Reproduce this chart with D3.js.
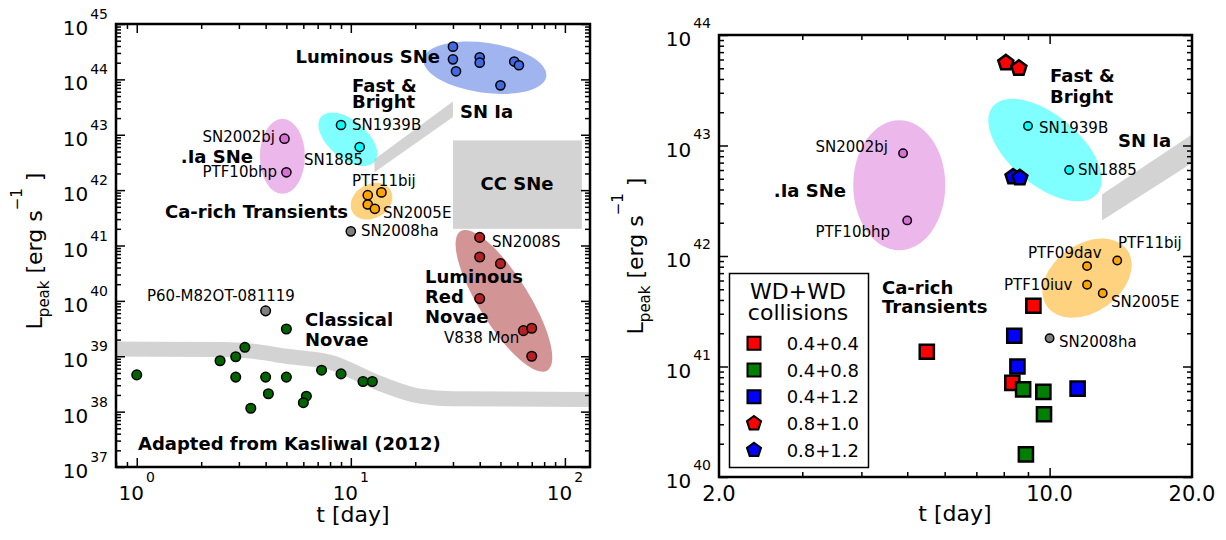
<!DOCTYPE html>
<meta charset="UTF-8">
<style>
  body { margin: 0; background: #fff; }
  svg { display: block; }
</style>
<body></body>
<script src="https://d3js.org/d3.v7.min.js"></script>
<script>
  // ---- data: t in days, L in erg/s ----
  const iaNames = ['SN2002bj', 'PTF10bhp'];
  const iaT = [4.9, 5.0];
  const iaL = [8.5e42, 2.1e42];

  const fbNames = ['SN1939B', 'SN1885'];
  const fbT = [9.0, 11.0];
  const fbL = [1.5e43, 6.0e42];

  const caNames = ['PTF09dav', 'PTF11bij', 'PTF10iuv', 'SN2005E'];
  const caT = [12.0, 13.9, 12.0, 12.95];
  const caL = [8.1e41, 9.1e41, 5.5e41, 4.6e41];

  const haT = [10.0];
  const haL = [1.8e41];

  const lumT = [30, 30, 31, 40, 40, 50, 58, 61];
  const lumL = [3.9e44, 2.3e44, 1.4e44, 2.5e44, 2.0e44, 7.8e43, 2.1e44, 1.8e44];

  const lrnT = [40, 40, 50, 40, 64, 70, 70];
  const lrnL = [1.4e41, 6.2e40, 4.7e40, 1.1e40, 2.9e39, 3.2e39, 1.0e39];

  const novaT = [1.0, 2.45, 2.9, 3.2, 2.9, 3.41, 4.0, 4.12, 5.0, 5.0, 6.2, 6.0, 7.3, 9.0, 11.4, 12.6];
  const novaL = [4.6e38, 8.3e38, 9.8e38, 1.45e39, 4.2e38, 1.15e38, 4.2e38, 2.1e38, 3.1e39, 4.2e38,
                 1.9e38, 1.45e38, 5.6e38, 4.8e38, 3.5e38, 3.5e38];

  const p60T = [4.0];
  const p60L = [6.6e39];

  const novaBandT = [0.8, 2.5, 3.5, 5, 8, 13.7, 21, 30, 131];
  const novaBandL = [1.35e39, 1.32e39, 1.23e39, 1.0e39, 7.8e38, 3.2e38, 1.9e38, 1.7e38, 1.66e38];

  const sniaBandT = [12.9, 30, 30, 12.9];
  const sniaBandL = [3.6e42, 4.0e43, 2.1e43, 2.1e42];

  const ccT = [30, 120];
  const ccL = [2.0e41, 7.9e42];

  // WD+WD collision models
  const collLabels = ['0.4+0.4', '0.4+0.8', '0.4+1.2', '0.8+1.0', '0.8+1.2'];
  const collColors = ['#ff0000', '#008000', '#0000ff', '#ff0000', '#0000ff'];
  const collShapes = ['square', 'square', 'square', 'pentagon', 'pentagon'];
  const collT = [[9.24, 5.5, 8.34], [8.79, 9.70, 9.73, 8.91], [8.42, 8.55, 11.46], [8.08, 8.61], [8.37, 8.65]];
  const collL = [[3.55e41, 1.36e41, 7.1e40], [6.2e40, 5.9e40, 3.7e40, 1.6e40], [1.9e41, 1.0e41, 6.3e40],
                 [5.6e43, 5.0e43], [5.2e42, 5.1e42]];

  const zip = (a, b) => a.map((v, i) => [v, b[i]]);

  const svg = d3.select('body').append('svg')
    .attr('width', 1226).attr('height', 540)
    .style('font-family', '"DejaVu Sans", sans-serif');

  const symbolPentagon = {
    draw(ctx, size) {
      const r = Math.sqrt(size / 2.378);
      for (let i = 0; i < 5; i += 1) {
        const a = -Math.PI / 2 + i * 2 * Math.PI / 5;
        if (i) ctx.lineTo(r * Math.cos(a), r * Math.sin(a));
        else ctx.moveTo(r * Math.cos(a), r * Math.sin(a));
      }
      ctx.closePath();
    }
  };

  function makePanel(id, box, xDomain, yDomain) {
    const x = d3.scaleLog().domain(xDomain).range([box.l, box.r]);
    const y = d3.scaleLog().domain(yDomain).range([box.b, box.t]);
    const g = svg.append('g');
    g.append('clipPath').attr('id', id).append('rect')
      .attr('x', box.l).attr('y', box.t).attr('width', box.r - box.l).attr('height', box.b - box.t);
    const plot = g.append('g').attr('clip-path', `url(#${id})`);
    return { x, y, g, plot, box };
  }

  function drawFrame(p, xMajor, xMinor, yMajor, yMinor) {
    const { x, y, g, box } = p;
    const add = (axis, tr) => g.append('g').attr('transform', tr).call(axis)
      .call(s => s.select('.domain').remove())
      .call(s => s.selectAll('text').remove())
      .selectAll('line').attr('stroke', '#000').attr('stroke-width', 1.5);
    [[xMajor, 9], [xMinor, 5]].forEach(([vals, len]) => {
      add(d3.axisBottom(x).tickValues(vals).tickSize(-len), `translate(0,${box.b})`);
      add(d3.axisTop(x).tickValues(vals).tickSize(-len), `translate(0,${box.t})`);
    });
    [[yMajor, 9], [yMinor, 5]].forEach(([vals, len]) => {
      add(d3.axisLeft(y).tickValues(vals).tickSize(-len), `translate(${box.l},0)`);
      add(d3.axisRight(y).tickValues(vals).tickSize(-len), `translate(${box.r},0)`);
    });
    g.append('rect').attr('x', box.l).attr('y', box.t)
      .attr('width', box.r - box.l).attr('height', box.b - box.t)
      .attr('fill', 'none').attr('stroke', '#000').attr('stroke-width', 2.5);
  }

  function minorTicks(lo, hi) {
    const out = [];
    for (let e = lo; e < hi; e += 1) for (let m = 2; m <= 9; m += 1) out.push(m * Math.pow(10, e));
    return out;
  }

  function yPowLabels(p, exps, xr, dyExp) {
    exps.forEach(e => {
      const t = p.g.append('text').attr('x', xr).attr('y', p.y(Math.pow(10, e)) + 11)
        .attr('text-anchor', 'end');
      t.append('tspan').attr('font-size', 20).text('10');
      t.append('tspan').attr('font-size', 14).attr('dx', 2).attr('dy', dyExp).text(e);
    });
  }

  function yTitle(cx, cy) {
    const t = svg.append('text').attr('transform', `translate(${cx},${cy}) rotate(-90)`)
      .attr('text-anchor', 'middle').attr('font-size', 22);
    t.append('tspan').text('L');
    t.append('tspan').attr('font-size', 15).attr('dy', 7).text('peak');
    t.append('tspan').attr('dy', -7).text(' [erg s');
    t.append('tspan').attr('font-size', 15).attr('dy', -20).text('−1');
    t.append('tspan').attr('dy', 20).text(' ]');
  }

  function ellipse(p, t, L, rx, ry, rot, fill) {
    p.plot.append('ellipse')
      .attr('transform', `translate(${p.x(t)},${p.y(L)}) rotate(${rot})`)
      .attr('rx', rx).attr('ry', ry).attr('fill', fill).attr('fill-opacity', 0.5);
  }

  function polygon(p, ts, ls) {
    p.plot.append('path')
      .attr('d', d3.line().x(d => p.x(d[0])).y(d => p.y(d[1]))(zip(ts, ls)) + 'Z')
      .attr('fill', 'lightgrey');
  }

  function circles(p, ts, ls, color, r) {
    p.plot.append('g').selectAll('circle').data(zip(ts, ls)).join('circle')
      .attr('cx', d => p.x(d[0])).attr('cy', d => p.y(d[1])).attr('r', r)
      .attr('fill', color).attr('stroke', '#000').attr('stroke-width', 1.5);
  }

  function labels(p, list) {
    list.forEach(([txt, x, y, anchor, bold]) => {
      p.g.append('text').attr('x', x).attr('y', y).attr('text-anchor', anchor)
        .attr('font-size', bold ? 18 : 15).attr('font-weight', bold ? 'bold' : 'normal')
        .text(txt);
    });
  }

  // ================= left panel =================
  const left = makePanel('clipL', { l: 116, r: 590, t: 24, b: 467 }, [0.8, 131], [1e37, 1e45]);

  left.plot.append('path')
    .attr('d', d3.line().curve(d3.curveMonotoneX).x(d => left.x(d[0])).y(d => left.y(d[1]))(zip(novaBandT, novaBandL)))
    .attr('fill', 'none').attr('stroke', 'lightgrey').attr('stroke-width', 15);
  polygon(left, sniaBandT, sniaBandL);
  left.plot.append('rect')
    .attr('x', left.x(ccT[0])).attr('y', left.y(ccL[1]))
    .attr('width', left.x(ccT[1]) - left.x(ccT[0])).attr('height', left.y(ccL[0]) - left.y(ccL[1]))
    .attr('fill', 'lightgrey');

  ellipse(left, 42.3, 1.62e44, 62, 25, 8, 'royalblue');
  ellipse(left, 9.68, 8.3e42, 35, 19, 40, 'cyan');
  ellipse(left, 4.79, 4.07e42, 22.5, 37.5, 0, 'orchid');
  ellipse(left, 12.5, 6.3e41, 22, 17, -30, 'orange');
  ellipse(left, 51.9, 1.0e40, 82, 25, 58, 'brown');

  circles(left, lumT, lumL, 'royalblue', 4.6);
  circles(left, fbT, fbL, 'cyan', 4.6);
  circles(left, iaT, iaL, 'orchid', 4.6);
  circles(left, caT, caL, 'orange', 4.6);
  circles(left, haT, haL, 'grey', 4.6);
  circles(left, lrnT, lrnL, '#b22222', 4.8);
  circles(left, novaT, novaL, 'darkgreen', 4.8);
  circles(left, p60T, p60L, 'grey', 4.8);

  drawFrame(left, [1, 10, 100], [0.8, 0.9].concat(minorTicks(0, 2)), d3.range(37, 46).map(e => Math.pow(10, e)), minorTicks(37, 45));
  yPowLabels(left, d3.range(37, 46), 108, -16);
  [0, 1, 2].forEach(e => {
    const t = left.g.append('text').attr('x', left.x(Math.pow(10, e))).attr('y', 500).attr('text-anchor', 'middle');
    t.append('tspan').attr('font-size', 20).text('10');
    t.append('tspan').attr('font-size', 14).attr('dx', 2).attr('dy', -18).text(e);
  });
  left.g.append('text').attr('x', 353).attr('y', 522).attr('text-anchor', 'middle').attr('font-size', 22).text('t [day]');
  yTitle(42, 251);

  labels(left, [
    ['Luminous SNe', 440, 63, 'end', true],
    ['Fast &', 352, 92, 'start', true],
    ['Bright', 352, 108, 'start', true],
    ['SN Ia', 460, 118, 'start', true],
    ['SN1939B', 352, 130, 'start'],
    ['SN2002bj', 275, 142, 'end'],
    ['.Ia SNe', 253, 163, 'end', true],
    ['SN1885', 363, 165, 'end'],
    ['PTF10bhp', 277, 177, 'end'],
    ['PTF11bij', 352, 186, 'start'],
    ['CC SNe', 517, 190, 'middle', true],
    ['Ca-rich Transients', 348, 218, 'end', true],
    ['SN2005E', 383, 218, 'start'],
    ['SN2008ha', 361, 236, 'start'],
    ['SN2008S', 492, 247, 'start'],
    ['Luminous', 425, 283, 'start', true],
    ['Red', 425, 303, 'start', true],
    ['Novae', 425, 323, 'start', true],
    ['P60-M82OT-081119', 147, 301, 'start'],
    ['Classical', 305, 326, 'start', true],
    ['Novae', 305, 346, 'start', true],
    ['V838 Mon', 444, 343, 'start'],
    ['Adapted from Kasliwal (2012)', 138, 450, 'start', true]
  ]);

  // ================= right panel =================
  const right = makePanel('clipR', { l: 719, r: 1192, t: 35, b: 477 }, [2, 20], [1e40, 1e44]);

  ellipse(right, 4.81, 4.37e42, 46, 65, 0, 'orchid');
  ellipse(right, 9.78, 9.1e42, 68, 35, 40, 'cyan');
  ellipse(right, 12.0, 6.3e41, 49, 34, -35, 'orange');
  polygon(right, sniaBandT, sniaBandL);

  circles(right, iaT, iaL, 'orchid', 4.2);
  circles(right, fbT, fbL, 'cyan', 4.2);
  circles(right, caT, caL, 'orange', 4.2);
  circles(right, haT, haL, 'grey', 4.2);

  const symFor = (shape) => d3.symbol().type(shape === 'square' ? d3.symbolSquare : symbolPentagon)
    .size(shape === 'square' ? 200 : 150);

  collT.forEach((ts, k) => {
    right.plot.append('g').selectAll('path').data(zip(ts, collL[k])).join('path')
      .attr('transform', d => `translate(${right.x(d[0])},${right.y(d[1])})`)
      .attr('d', symFor(collShapes[k])())
      .attr('fill', collColors[k]).attr('stroke', '#000').attr('stroke-width', 2.5)
      .attr('stroke-linejoin', 'miter');
  });

  drawFrame(right, [10], [3, 4, 5, 6, 7, 8, 9], d3.range(40, 45).map(e => Math.pow(10, e)), minorTicks(40, 44));
  yPowLabels(right, d3.range(40, 45), 711, -18);
  [2, 10, 20].forEach(v => {
    right.g.append('text').attr('x', right.x(v)).attr('y', 501).attr('text-anchor', 'middle')
      .attr('font-size', 21).text(v.toFixed(1));
  });
  right.g.append('text').attr('x', 955).attr('y', 521).attr('text-anchor', 'middle').attr('font-size', 22).text('t [day]');
  yTitle(643, 256);

  labels(right, [
    ['Fast &', 1050, 82, 'start', true],
    ['Bright', 1050, 103, 'start', true],
    ['SN1939B', 1039, 133, 'start'],
    ['SN Ia', 1118, 147, 'start', true],
    ['SN2002bj', 888, 152, 'end'],
    ['SN1885', 1078, 175, 'start'],
    ['.Ia SNe', 846, 197, 'end', true],
    ['PTF10bhp', 890, 237, 'end'],
    ['PTF11bij', 1118, 248, 'start'],
    ['PTF09dav', 1028, 258, 'start'],
    ['PTF10iuv', 1004, 290, 'start'],
    ['Ca-rich', 882, 294, 'start', true],
    ['Transients', 882, 313, 'start', true],
    ['SN2005E', 1111, 307, 'start'],
    ['SN2008ha', 1059, 347, 'start']
  ]);

  // legend
  const leg = svg.append('g');
  leg.append('rect').attr('x', 729.5).attr('y', 273.5).attr('width', 139).attr('height', 194)
    .attr('fill', '#fff').attr('stroke', '#000').attr('stroke-width', 1.5);
  leg.append('text').attr('x', 798).attr('y', 299).attr('text-anchor', 'middle').attr('font-size', 22).text('WD+WD');
  leg.append('text').attr('x', 798).attr('y', 320).attr('text-anchor', 'middle').attr('font-size', 22).text('collisions');
  collLabels.forEach((lab, k) => {
    const cy = 343.3 + k * 26.7;
    leg.append('path').attr('transform', `translate(754,${cy})`)
      .attr('d', d3.symbol().type(collShapes[k] === 'square' ? d3.symbolSquare : symbolPentagon)
        .size(collShapes[k] === 'square' ? 170 : 130)())
      .attr('fill', collColors[k]).attr('stroke', '#000').attr('stroke-width', 2);
    leg.append('text').attr('x', 859).attr('y', cy + 6.5).attr('text-anchor', 'end').attr('font-size', 18).text(lab);
  });
</script>
